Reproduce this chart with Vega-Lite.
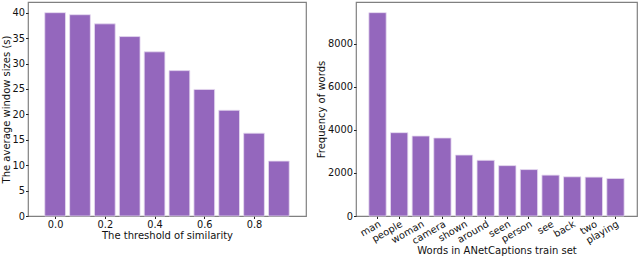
{
  "$schema": "https://vega.github.io/schema/vega-lite/v6.json",
  "padding": {"left": 0, "top": 1, "right": 1, "bottom": 0},
  "spacing": 8,
  "config": {
    "font": "DejaVu Sans",
    "view": {"stroke": "#808080", "strokeWidth": 1.2},
    "axis": {
      "grid": false,
      "domain": false,
      "tickColor": "#222",
      "tickSize": 2.5,
      "labelFont": "DejaVu Sans",
      "labelFontSize": 9.8,
      "labelColor": "#111",
      "titleFont": "DejaVu Sans",
      "titleFontSize": 10,
      "titleFontWeight": "normal",
      "titleColor": "#111",
      "labelPadding": 1,
      "titlePadding": 1
    }
  },
  "hconcat": [
    {
      "width": 278,
      "height": 214,
      "data": {"values": [
        {"threshold": 0.0, "size": 40.0},
        {"threshold": 0.1, "size": 39.6},
        {"threshold": 0.2, "size": 37.8},
        {"threshold": 0.3, "size": 35.3},
        {"threshold": 0.4, "size": 32.3},
        {"threshold": 0.5, "size": 28.6},
        {"threshold": 0.6, "size": 24.9},
        {"threshold": 0.7, "size": 20.8},
        {"threshold": 0.8, "size": 16.3},
        {"threshold": 0.9, "size": 10.8}
      ]},
      "mark": {"type": "bar", "size": 20.7, "color": "#9467bd", "stroke": "#e6dbf0", "strokeWidth": 0.8},
      "encoding": {
        "x": {
          "field": "threshold", "type": "quantitative",
          "scale": {"domain": [-0.089, 0.989], "nice": false, "zero": false},
          "axis": {"values": [0, 0.2, 0.4, 0.6, 0.8], "format": ".1f", "title": "The threshold of similarity", "labelFlush": false}
        },
        "y": {
          "field": "size", "type": "quantitative",
          "scale": {"domain": [0, 42.1], "nice": false},
          "axis": {"values": [0, 5, 10, 15, 20, 25, 30, 35, 40], "title": "The average window sizes (s)", "labelFlush": false}
        }
      }
    },
    {
      "width": 281,
      "height": 214,
      "data": {"values": [
        {"word": "man", "freq": 9450},
        {"word": "people", "freq": 3873},
        {"word": "woman", "freq": 3717},
        {"word": "camera", "freq": 3626},
        {"word": "shown", "freq": 2832},
        {"word": "around", "freq": 2588},
        {"word": "seen", "freq": 2341},
        {"word": "person", "freq": 2157},
        {"word": "see", "freq": 1900},
        {"word": "back", "freq": 1822},
        {"word": "two", "freq": 1808},
        {"word": "playing", "freq": 1744}
      ]},
      "mark": {"type": "bar", "color": "#9467bd", "stroke": "#e6dbf0", "strokeWidth": 0.8},
      "encoding": {
        "x": {
          "field": "word", "type": "nominal", "sort": null,
          "scale": {"paddingInner": 0.2, "paddingOuter": 0.595},
          "axis": {"title": "Words in ANetCaptions train set", "labelAngle": -30, "labelAlign": "right", "labelBaseline": "top", "labelPadding": 0, "titlePadding": 0}
        },
        "y": {
          "field": "freq", "type": "quantitative",
          "scale": {"domain": [0, 9945], "nice": false},
          "axis": {"values": [0, 2000, 4000, 6000, 8000], "format": "d", "title": "Frequency of words", "labelFlush": false}
        }
      }
    }
  ]
}
